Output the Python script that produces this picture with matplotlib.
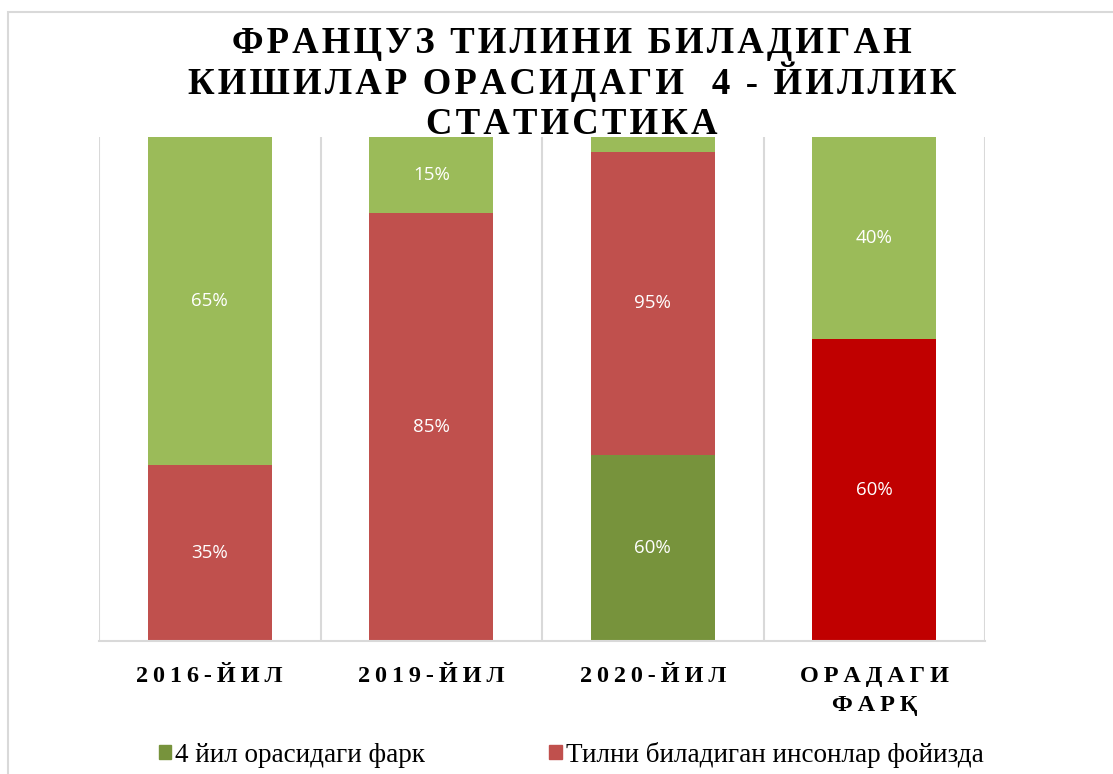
import matplotlib
matplotlib.use('Agg')
import matplotlib.pyplot as plt
from matplotlib.patches import Rectangle, Patch

# dane (wysokości segmentów i podpisy)
categories = ['2016-ЙИЛ', '2019-ЙИЛ', '2020-ЙИЛ', 'ОРАДАГИ\nФАРҚ']
bottom_vals = [0.35, 0.85, 0.37, 0.60]
middle_vals = [0.65, 0.15, 0.60, 0.40]
top_vals = [0.0, 0.0, 0.03, 0.0]
bottom_labels = ['35%', '85%', '60%', '60%']
middle_labels = ['65%', '15%', '95%', '40%']
top_labels = ['', '', '', '']
series_names = ['4 йил орасидаги фарк', 'Тилни биладиган инсонлар фойизда']
title_lines = ['ФРАНЦУЗ ТИЛИНИ БИЛАДИГАН', 'КИШИЛАР ОРАСИДАГИ  4 - ЙИЛЛИК', 'СТАТИСТИКА']

GREEN = '#9BBB59'
RED = '#C0504D'
DARK_GREEN = '#77933C'
BRIGHT_RED = '#C00000'
bottom_colors = [RED, RED, DARK_GREEN, BRIGHT_RED]
middle_colors = [GREEN, GREEN, RED, GREEN]
top_colors = [GREEN, GREEN, GREEN, GREEN]

SERIF = ['Liberation Serif', 'DejaVu Serif']


def spaced(s, sep='\u200a'):  # rozstrzelenie liter (jak w Excelu)
    return '\n'.join(sep.join(line) for line in s.split('\n'))


fig = plt.figure(figsize=(11.13, 7.74), dpi=100)
# ramka obszaru wykresu
fig.patches.append(Rectangle((8 / 1113, -0.1), 1.2, 1 - 12 / 774 + 0.1, transform=fig.transFigure,
                             fill=False, edgecolor='#d9d9d9', linewidth=1.5))

ax = fig.add_axes([99 / 1113, (774 - 641) / 774, (985 - 99) / 1113, (641 - 137) / 774])
x = range(len(categories))
width = 0.56

ax.bar(x, bottom_vals, width, color=bottom_colors, zorder=2)
ax.bar(x, middle_vals, width, bottom=bottom_vals, color=middle_colors, zorder=2)
bot2 = [a + b for a, b in zip(bottom_vals, middle_vals)]
ax.bar(x, top_vals, width, bottom=bot2, color=top_colors, zorder=2)

lab_kw = dict(ha='center', va='center', color='white', fontsize=13.5, family='Open Sans')
for i in x:
    ax.text(i, bottom_vals[i] / 2, bottom_labels[i], **lab_kw)
    mid_top = min(bot2[i], 1.0)
    ax.text(i, (bottom_vals[i] + mid_top) / 2, middle_labels[i], **lab_kw)
    if top_labels[i]:
        ax.text(i, (bot2[i] + 1.0) / 2, top_labels[i], **lab_kw)

ax.set_ylim(0, 1.0)
ax.set_xlim(-0.5, len(categories) - 0.5)
for xv in [i - 0.5 for i in range(len(categories) + 1)]:
    ax.axvline(xv, color='#d9d9d9', linewidth=1.5, zorder=1)
for s in ['top', 'left', 'right']:
    ax.spines[s].set_visible(False)
ax.spines['bottom'].set_color('#d9d9d9')
ax.spines['bottom'].set_linewidth(1.5)
ax.set_yticks([])
ax.set_xticks(list(x))
ax.set_xticklabels([spaced(c, '\u2009') for c in categories], family=SERIF, fontweight='bold',
                   fontsize=17.5, linespacing=1.5, va='top')
ax.tick_params(axis='x', length=0, pad=18)

# tytuł - trzy linie
for k, line in enumerate(title_lines):
    fig.text(572 / 1113, 1 - (53 + 40.5 * k) / 774, spaced(line), ha='center', va='baseline',
             family=SERIF, fontweight='bold', fontsize=26.5, zorder=5)

handles = [Patch(color=DARK_GREEN), Patch(color=RED)]
fig.legend(handles, series_names, loc='center', bbox_to_anchor=(0.513, 0.025), ncol=2,
           frameon=False, prop={'family': SERIF, 'size': 19.5},
           handlelength=0.45, handleheight=0.45, handletextpad=0.15, columnspacing=4.6)

fig.savefig('out.png', dpi=100)
